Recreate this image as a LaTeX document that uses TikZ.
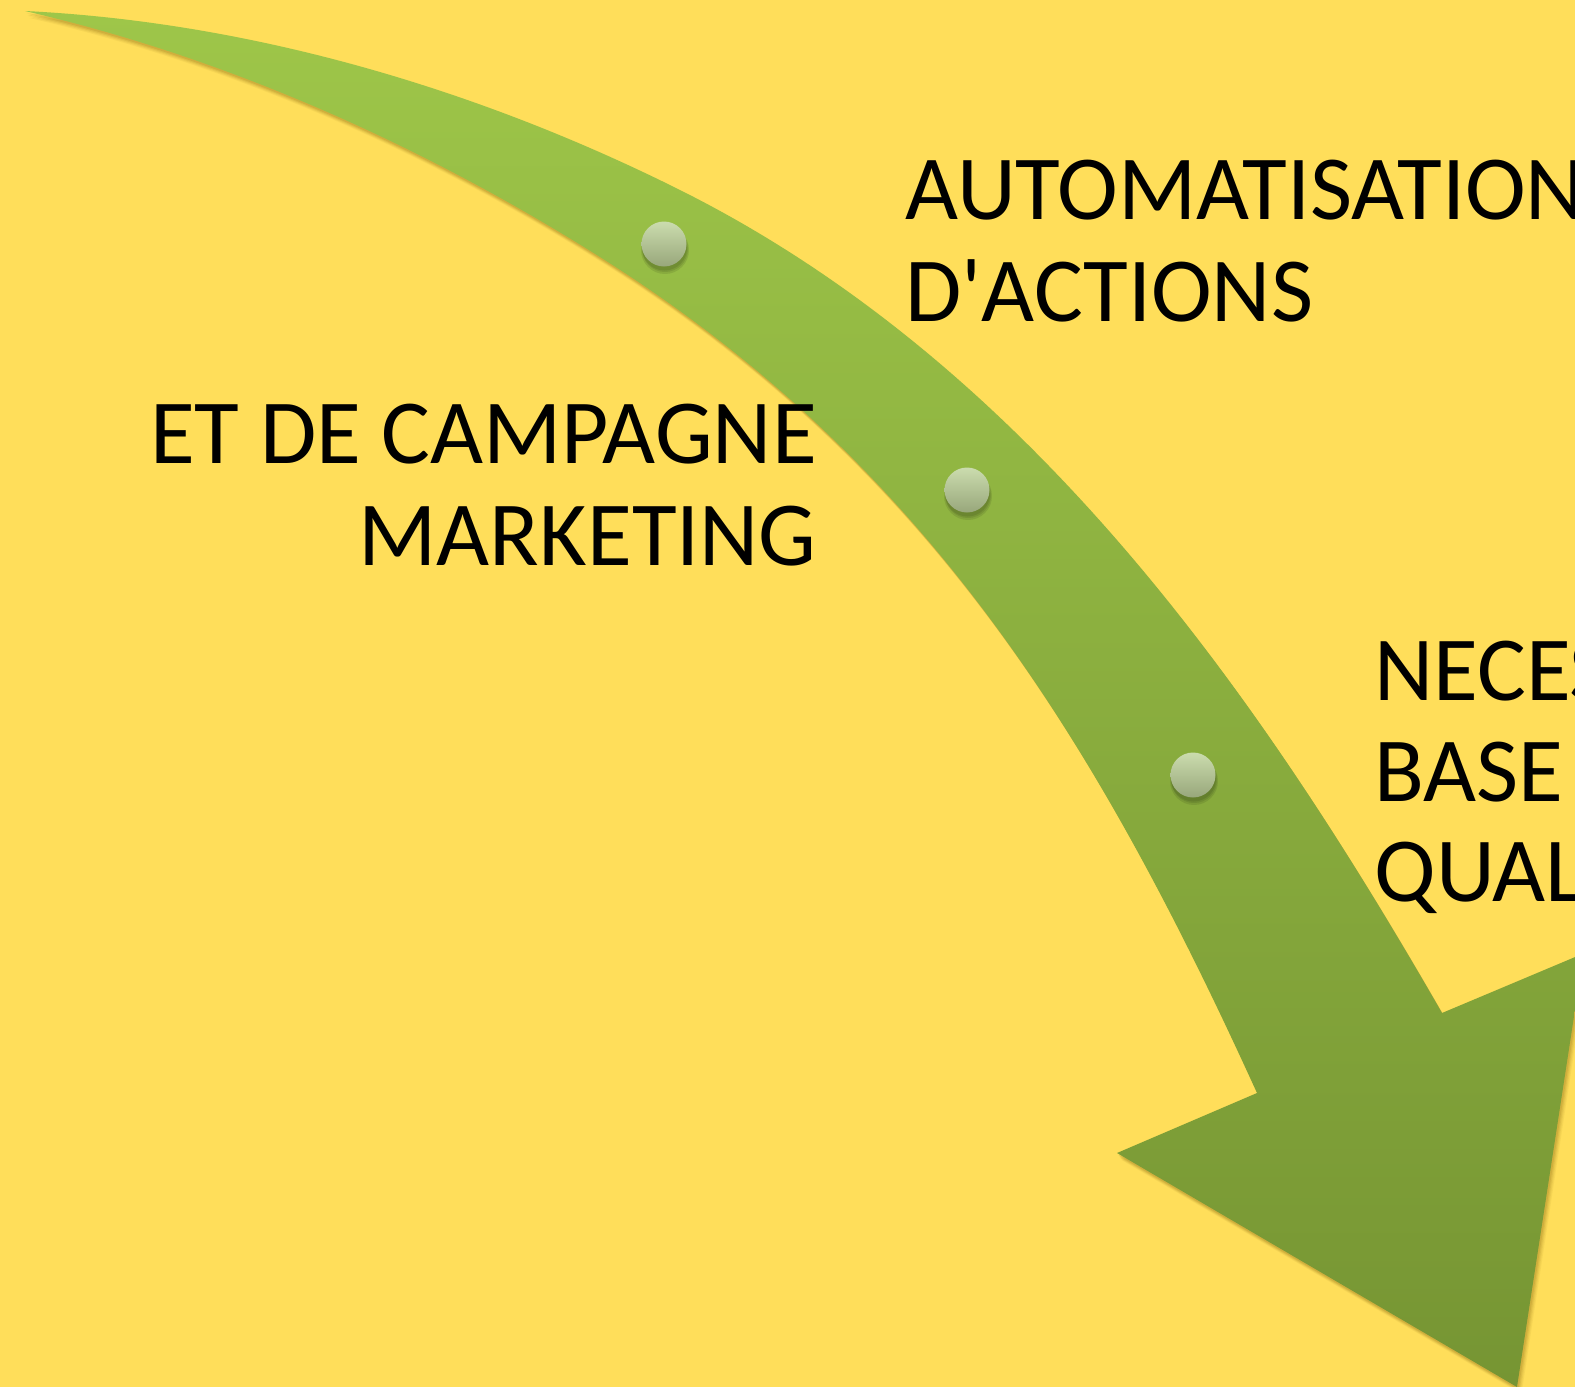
\documentclass[tikz,border=0pt]{standalone}
\usepackage{fontspec}
\newfontfamily\lab{Carlito}[Ligatures=TeXOff]
\definecolor{bgyellow}{HTML}{FFDE5A}
\definecolor{greentop}{HTML}{9EC649}
\definecolor{greenbot}{HTML}{769533}
\definecolor{dottop}{HTML}{CBDCAE}
\definecolor{dotbot}{HTML}{98A77B}
\definecolor{shadowcol}{HTML}{6E5200}
\newcommand\arrowoutline{%
  (25,11) .. controls (251,22) and (478,89) .. (680,190)
  .. controls (1037.6,368.8) and (1267.4,709.5) .. (1442,1013)
  -- (1583.7,953.4) -- (1517,1387) -- (1117,1153) -- (1257,1093)
  .. controls (1091.4,729) and (921.5,459.5) .. (600,257)
  .. controls (424,146.1) and (227.6,57.6) .. (25,11)
  -- cycle}
\tikzset{
  label/.style={font=\lab\fontsize{45.8}{50.85}\selectfont, text=black, inner sep=0pt},
  bead/.style={circle, inner sep=0pt, minimum size=22.5pt, top color=dottop, bottom color=dotbot, draw=none},
  beadshadow/.style={fill=black, opacity=0.09},
}
\begin{document}
\begin{tikzpicture}[x=0.5pt,y=-0.5pt]
\path[use as bounding box] (0,0) rectangle (1575,1387);
\fill[bgyellow] (0,0) rectangle (1575,1387);
\clip (0,0) rectangle (1575,1387);
% soft drop shadow of the arrow
\foreach \dx/\dy/\op in {4.5/7/0.06, 3.5/5.5/0.08, 2.5/4/0.10, 1.5/2.5/0.12}{
  \begin{scope}[shift={(\dx,\dy)}]
    \fill[shadowcol, opacity=\op] \arrowoutline;
  \end{scope}
}
% arrow body
\shade[top color=greentop, bottom color=greenbot, draw=none] \arrowoutline;
% beads
\coordinate (c1) at (664,244);
\coordinate (c2) at (967,490);
\coordinate (c3) at (1193,775);
\foreach \c in {c1,c2,c3}{
  \foreach \dx/\dy/\r in {1/6/24, 1/5/23, 0.5/4/22.5}{
    \fill[beadshadow] ([shift={(\dx,\dy)}]\c) circle (\r);
  }
}
\node[bead] (d1) at (c1) {};
\node[bead] (d2) at (c2) {};
\node[bead] (d3) at (c3) {};
% labels
\node[label, anchor=base west] (a1) at (905,219.5) {AUTOMATISATION};
\node[label, anchor=base west] (a2) at (905,321) {D'ACTIONS};
\node[label, anchor=base east] (b1) at (817,463.5) {ET DE CAMPAGNE};
\node[label, anchor=base east] (b2) at (817,565) {MARKETING};
\node[label, anchor=base west] (n1) at (1374,700) {NECES};
\node[label, anchor=base west] (n2) at (1374,801) {BASE};
\node[label, anchor=base west] (n3) at (1374,901) {QUAL};
\end{tikzpicture}
\end{document}
